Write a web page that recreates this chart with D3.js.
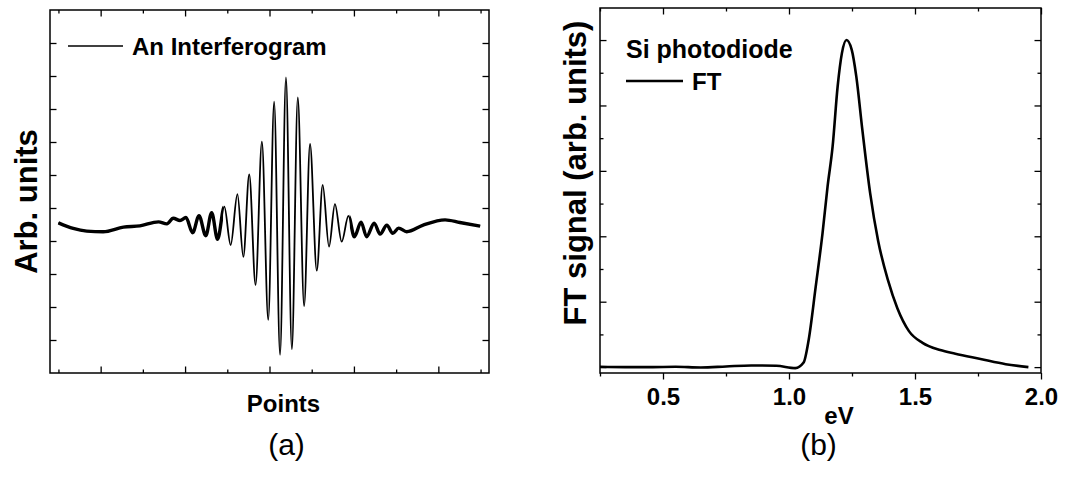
<!DOCTYPE html>
<html>
<head>
<meta charset="utf-8">
<script src="https://d3js.org/d3.v7.min.js"></script>
<style>
body { margin: 0; background: #fff; }
text { font-family: "Liberation Sans", Arial, sans-serif; }
</style>
</head>
<body>
<script>

// panel (a): interferogram (point index, arb. units)
var aPoints = [0, 35, 67, 106, 154, 193, 237, 257, 272, 288, 302, 318, 333, 349, 363, 377, 393, 408, 424, 438,
               452, 467, 482, 497, 511, 525, 539, 553, 567, 582, 596, 612, 626, 641, 655, 671, 687, 701, 717, 730,
               748, 762, 778, 792, 806, 825, 864, 916, 951, 999];
var aSignal = [4.55, 4.38, 4.30, 4.28, 4.42, 4.46, 4.58, 4.52, 4.69, 4.62, 4.71, 4.25, 4.77, 4.16, 4.86, 4.05, 5.04, 3.88, 5.42, 3.52,
               6.02, 2.67, 7.01, 1.61, 8.22, 0.55, 8.96, 0.72, 8.35, 2.03, 6.94, 3.10, 5.70, 3.83, 5.12, 3.98, 4.76, 4.13, 4.57, 4.13,
               4.54, 4.21, 4.48, 4.23, 4.39, 4.28, 4.48, 4.64, 4.56, 4.45];
var aMajorX = [100, 300, 500, 700, 900];
var aMinorX = [0, 200, 400, 600, 800, 1000];
var aTicksY = [1, 2, 3, 4, 5, 6, 7, 8, 9, 10];

// panel (b): FT of the interferogram (eV, arb. units)
var bEnergy = [0.25, 0.35, 0.45, 0.55, 0.65, 0.75, 0.85, 0.95, 1.025, 1.058, 1.078, 1.106, 1.133, 1.153, 1.173, 1.193,
               1.210, 1.228, 1.249, 1.267, 1.291, 1.322, 1.354, 1.393, 1.430, 1.476, 1.53, 1.60, 1.66, 1.76, 1.86, 1.95];
var bSignal = [0.01, 0.0, 0.0, 0.01, -0.01, 0.02, 0.05, 0.04, -0.03, 0.14, 0.83, 2.46, 4.09, 5.52, 6.74, 8.58,
               9.60, 10.0, 9.70, 8.89, 7.26, 5.32, 3.85, 2.65, 1.80, 1.10, 0.74, 0.52, 0.41, 0.25, 0.09, 0.0];
var bMajorX = [0.5, 1.0, 1.5, 2.0];
var bMinorX = [0.25, 0.75, 1.25, 1.75];
var bMajorY = [0, 2, 4, 6, 8, 10];
var bMinorY = [1, 3, 5, 7, 9];

var w = 1073, h = 482;

var svg = d3.select("body").append("svg")
    .attr("width", w)
    .attr("height", h);

svg.append("rect").attr("width", w).attr("height", h).attr("fill", "#fff");

function noDomain(g) { g.select(".domain").remove(); }

function ticks(axis, vals, size, x, y) {
  svg.append("g")
     .attr("transform", "translate(" + x + "," + y + ")")
     .call(axis.tickValues(vals).tickSize(size).tickFormat(""))
     .call(noDomain)
     .selectAll("line").attr("stroke", "#000").attr("stroke-width", 1.3);
}

// ---------- (a) ----------
var aL = 50, aR = 489, aT = 10, aB = 373;
var xa = d3.scaleLinear().domain([-20, 1020]).range([aL, aR]);
var ya = d3.scaleLinear().domain([0, 11]).range([aB, aT]);

ticks(d3.axisBottom(xa), aMajorX, -6.5, 0, aB);
ticks(d3.axisBottom(xa), aMinorX, -3.5, 0, aB);
ticks(d3.axisTop(xa), aMajorX, -6.5, 0, aT);
ticks(d3.axisTop(xa), aMinorX, -3.5, 0, aT);
ticks(d3.axisLeft(ya), aTicksY, -6.5, aL, 0);
ticks(d3.axisRight(ya), aTicksY, -6.5, aR, 0);

var aData = aPoints.map(function(p, i) { return [p, aSignal[i]]; });
var aLine = d3.line()
    .x(function(d) { return xa(d[0]); })
    .y(function(d) { return ya(d[1]); })
    .curve(d3.curveMonotoneX);

// the noisy wings look thicker than the central burst
svg.append("clipPath").attr("id", "wings")
   .selectAll("rect")
   .data([[-20, 390], [690, 1020]])
   .enter().append("rect")
   .attr("x", function(d) { return xa(d[0]); })
   .attr("width", function(d) { return xa(d[1]) - xa(d[0]); })
   .attr("y", aT).attr("height", aB - aT);

svg.append("path").datum(aData)
   .attr("d", aLine).attr("fill", "none").attr("stroke", "#000").attr("stroke-width", 1.8);
svg.append("path").datum(aData)
   .attr("d", aLine).attr("fill", "none").attr("stroke", "#000").attr("stroke-width", 3.4)
   .attr("clip-path", "url(#wings)");

svg.append("rect")
   .attr("x", aL).attr("y", aT).attr("width", aR - aL).attr("height", aB - aT)
   .attr("fill", "none").attr("stroke", "#000").attr("stroke-width", 1.5);

svg.append("line").attr("x1", 68).attr("x2", 123).attr("y1", 46).attr("y2", 46)
   .attr("stroke", "#000").attr("stroke-width", 1.6);
svg.append("text").attr("x", 132).attr("y", 55)
   .attr("font-size", 24).attr("font-weight", "bold").text("An Interferogram");

svg.append("text").attr("x", 283.5).attr("y", 411.5).attr("text-anchor", "middle")
   .attr("font-size", 24).attr("font-weight", "bold").text("Points");
svg.append("text").attr("transform", "translate(37,201.5) rotate(-90)").attr("text-anchor", "middle")
   .attr("font-size", 31).attr("font-weight", "bold").text("Arb. units");
svg.append("text").attr("x", 286.5).attr("y", 455).attr("text-anchor", "middle")
   .attr("font-size", 30).text("(a)");

// ---------- (b) ----------
var bL = 600, bR = 1041, bT = 8, bB = 373;
var xb = d3.scaleLinear().domain([0.25, 2.0]).range([bL, bR]);
var yb = d3.scaleLinear().domain([-0.18, 10.98]).range([bB, bT]);

svg.append("g")
   .attr("transform", "translate(0," + bB + ")")
   .call(d3.axisBottom(xb).tickValues(bMajorX).tickSize(6.5).tickPadding(8.5).tickFormat(d3.format(".1f")))
   .call(noDomain)
   .call(function(g) {
     g.selectAll("line").attr("stroke", "#000").attr("stroke-width", 1.3);
     g.selectAll("text").attr("font-size", 24).attr("font-weight", "bold")
      .attr("font-family", "Liberation Sans, Arial, sans-serif").attr("fill", "#000");
   });
ticks(d3.axisBottom(xb), bMinorX, 3.5, 0, bB);
ticks(d3.axisTop(xb), bMajorX, -6.5, 0, bT);
ticks(d3.axisTop(xb), bMinorX, -3.5, 0, bT);
ticks(d3.axisLeft(yb), bMajorY, -6.5, bL, 0);
ticks(d3.axisLeft(yb), bMinorY, -3.5, bL, 0);
ticks(d3.axisRight(yb), bMajorY, -6.5, bR, 0);
ticks(d3.axisRight(yb), bMinorY, -3.5, bR, 0);

var bData = bEnergy.map(function(e, i) { return [e, bSignal[i]]; });
svg.append("path").datum(bData)
   .attr("d", d3.line()
       .x(function(d) { return xb(d[0]); })
       .y(function(d) { return yb(d[1]); })
       .curve(d3.curveMonotoneX))
   .attr("fill", "none").attr("stroke", "#000").attr("stroke-width", 2.6);

svg.append("rect")
   .attr("x", bL).attr("y", bT).attr("width", bR - bL).attr("height", bB - bT)
   .attr("fill", "none").attr("stroke", "#000").attr("stroke-width", 1.5);

svg.append("text").attr("x", 626).attr("y", 58)
   .attr("font-size", 25).attr("font-weight", "bold").text("Si photodiode");
svg.append("line").attr("x1", 626).attr("x2", 683).attr("y1", 81).attr("y2", 81)
   .attr("stroke", "#000").attr("stroke-width", 2.4);
svg.append("text").attr("x", 692).attr("y", 90)
   .attr("font-size", 24).attr("font-weight", "bold").text("FT");

svg.append("text").attr("x", 839).attr("y", 424).attr("text-anchor", "middle")
   .attr("font-size", 24).attr("font-weight", "bold").text("eV");
svg.append("text").attr("transform", "translate(586,173) rotate(-90)").attr("text-anchor", "middle")
   .attr("font-size", 31).attr("font-weight", "bold").text("FT signal (arb. units)");
svg.append("text").attr("x", 818.5).attr("y", 455).attr("text-anchor", "middle")
   .attr("font-size", 30).text("(b)");

</script>
</body>
</html>
